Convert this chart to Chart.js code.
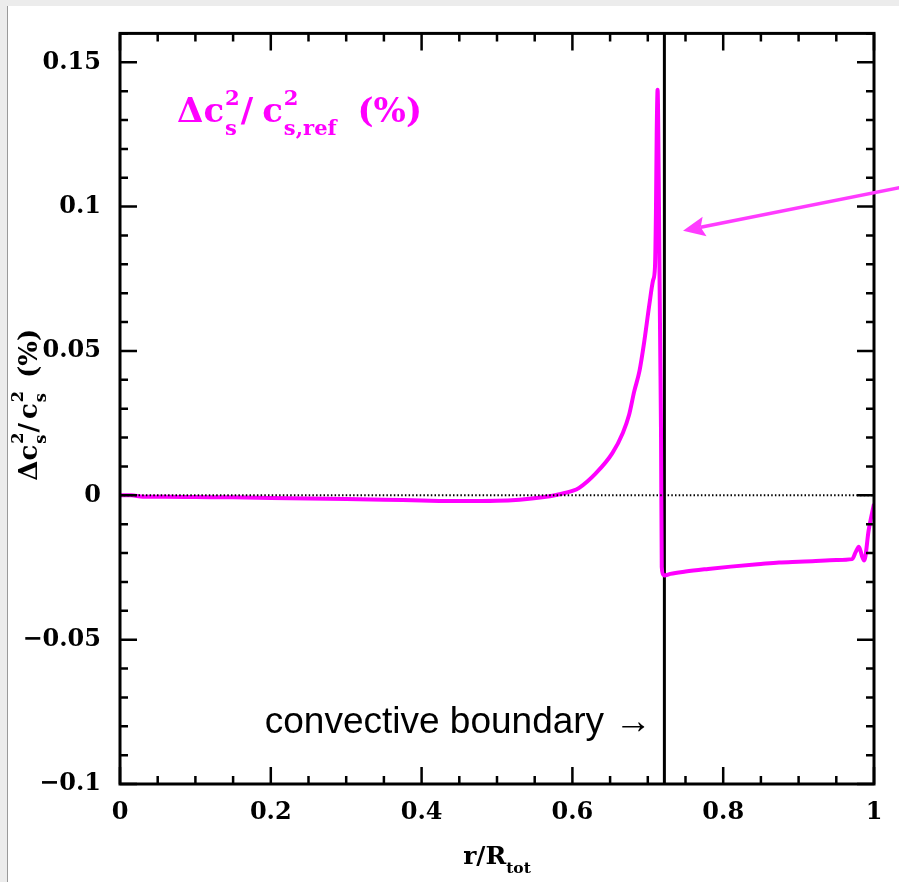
<!DOCTYPE html>
<html>
<head>
<meta charset="utf-8">
<script src="https://cdn.jsdelivr.net/npm/chart.js@4.4.1/dist/chart.umd.min.js"></script>
<style>
  html, body { margin: 0; padding: 0; background: #ececec; }
  #wrap { width: 899px; height: 882px; }
</style>
</head>
<body>
<div id="wrap"><canvas id="chart" width="899" height="882"></canvas></div>
<script>
// radius (r/Rtot) and relative sound-speed-squared difference (%)
const radius = [
  0, 0.015, 0.03, 0.06, 0.10, 0.15, 0.20, 0.25, 0.30, 0.35, 0.40, 0.45, 0.50,
  0.53, 0.56, 0.58, 0.60, 0.609, 0.631, 0.653, 0.667, 0.675, 0.682, 0.689,
  0.695, 0.702, 0.707, 0.7095, 0.7108, 0.7118, 0.713, 0.7145, 0.7155, 0.7165,
  0.7175, 0.7185, 0.7205, 0.722, 0.73, 0.75, 0.78, 0.81, 0.85, 0.874, 0.90,
  0.918, 0.95, 0.971, 0.976, 0.980, 0.984, 0.987, 0.993, 1.0
];
const deltaCs2 = [
  0, 0, -0.0005, -0.0005, -0.0006, -0.0007, -0.0009, -0.0011, -0.0013, -0.0015,
  -0.0018, -0.0020, -0.0019, -0.0015, -0.0007, 0.0002, 0.0015, 0.0026, 0.0076,
  0.0146, 0.0217, 0.0277, 0.0360, 0.0431, 0.0527, 0.0660, 0.0745, 0.0790,
  0.098, 0.125, 0.1405, 0.110, 0.078, 0.050, 0.0228, -0.0248, -0.0275, -0.0278,
  -0.0272, -0.0264, -0.0255, -0.0247, -0.0238, -0.0233, -0.0230, -0.0228,
  -0.0224, -0.0221, -0.0195, -0.0178, -0.0210, -0.0226, -0.0120, -0.0030
];

const boundaryR = 0.722;          // base of the convection zone
const xRange = [0, 1];
const yRange = [-0.1, 0.16];
const xTickValues = [0, 0.2, 0.4, 0.6, 0.8, 1];
const yTickValues = [-0.1, -0.05, 0, 0.05, 0.1, 0.15];
// arrow pointing at the spike: [r, value] of tail and tip
const arrowTail = [1.061, 0.108];
const arrowTip = [0.7467, 0.0916];

const MAGENTA = '#ff00ff';
const SERIF = '"DejaVu Serif", serif';

const curve = radius.map((r, i) => ({ x: r, y: deltaCs2[i] }));

function fmt(v) {
  if (v === 0) return '0';
  return v < 0 ? '\u2212' + String(-v) : String(v);
}

// draws text with stacked super/subscripts, returns the width used
function drawRich(ctx, x, y, items, size, draw) {
  const x0 = x;
  const small = size * 0.62;
  items.forEach(it => {
    if (it.t !== undefined) {
      ctx.font = 'bold ' + size + 'px ' + SERIF;
      if (draw) ctx.fillText(it.t, x, y);
      x += ctx.measureText(it.t).width + (it.gap || 0);
    } else {
      ctx.font = 'bold ' + small + 'px ' + SERIF;
      const ws = it.sup ? ctx.measureText(it.sup).width : 0;
      const wb = it.sub ? ctx.measureText(it.sub).width : 0;
      if (draw) {
        if (it.sup) ctx.fillText(it.sup, x, y - size * 0.52);
        if (it.sub) ctx.fillText(it.sub, x, y + size * 0.36);
      }
      x += Math.max(ws, wb) + (it.gap || 0);
    }
  });
  return x - x0;
}

const framePlugin = {
  id: 'frame',
  beforeDraw(chart) {
    const ctx = chart.ctx;
    ctx.save();
    ctx.fillStyle = '#ececec';
    ctx.fillRect(0, 0, chart.width, chart.height);
    ctx.fillStyle = '#ffffff';
    ctx.fillRect(7, 6, chart.width - 7, chart.height - 6);
    ctx.strokeStyle = '#9a9a9a';
    ctx.lineWidth = 1;
    ctx.beginPath();
    ctx.moveTo(7.5, 6);
    ctx.lineTo(7.5, chart.height);
    ctx.stroke();
    ctx.restore();
  },
  afterDatasetsDraw(chart) {
    const { ctx, chartArea: a, scales } = chart;
    const xs = scales.x, ys = scales.y;
    ctx.save();
    ctx.strokeStyle = '#000';
    ctx.lineWidth = 2.5;
    ctx.lineCap = 'butt';
    ctx.beginPath();
    for (let i = 0; i <= 20; i++) {
      const px = xs.getPixelForValue(i * 0.05);
      const len = i % 4 === 0 ? 17 : 8;
      ctx.moveTo(px, a.bottom); ctx.lineTo(px, a.bottom - len);
      ctx.moveTo(px, a.top); ctx.lineTo(px, a.top + len);
    }
    for (let j = -10; j <= 16; j++) {
      const py = ys.getPixelForValue(j * 0.01);
      const len = j % 5 === 0 ? 17 : 8;
      ctx.moveTo(a.left, py); ctx.lineTo(a.left + len, py);
      ctx.moveTo(a.right, py); ctx.lineTo(a.right - len, py);
    }
    ctx.stroke();
    ctx.lineWidth = 3;
    ctx.strokeRect(a.left, a.top, a.right - a.left, a.bottom - a.top);
    ctx.restore();
  },
  afterDraw(chart) {
    const { ctx, chartArea: a, scales } = chart;
    const xs = scales.x, ys = scales.y;
    ctx.save();
    ctx.textBaseline = 'alphabetic';
    ctx.textAlign = 'left';

    // in-plot label
    ctx.fillStyle = MAGENTA;
    drawRich(ctx, a.left + 57, a.top + 89, [
      { t: '\u0394' }, { t: 'c', gap: 1 }, { sup: '2', sub: 's', gap: 1 },
      { t: '/', gap: 9 }, { t: 'c', gap: 1 }, { sup: '2', sub: 's,ref', gap: 9 },
      { t: ' (%)' }
    ], 34, true);

    // axis titles
    ctx.fillStyle = '#000';
    const xItems = [{ t: 'r/R' }, { sub: 'tot' }];
    const wx = drawRich(ctx, 0, 0, xItems, 25, false);
    drawRich(ctx, (a.left + a.right) / 2 - wx / 2, 864, xItems, 25, true);

    const yItems = [
      { t: '\u0394' }, { t: 'c', gap: 1 }, { sup: '2', sub: 's' },
      { t: '/', gap: 4 }, { t: 'c', gap: 1 }, { sup: '2', sub: 's', gap: 4 },
      { t: ' (%)' }
    ];
    const wy = drawRich(ctx, 0, 0, yItems, 26, false);
    ctx.save();
    ctx.translate(37, (a.top + a.bottom) / 2 - 4);
    ctx.rotate(-Math.PI / 2);
    drawRich(ctx, -wy / 2, 0, yItems, 26, true);
    ctx.restore();

    // boundary annotation
    ctx.font = '37px "Liberation Sans", Arial, sans-serif';
    ctx.textAlign = 'right';
    ctx.fillText('convective boundary \u2192', xs.getPixelForValue(boundaryR) - 13,
      ys.getPixelForValue(-0.0824));

    // arrow toward the spike
    const tx = xs.getPixelForValue(arrowTip[0]), ty = ys.getPixelForValue(arrowTip[1]);
    const sx = xs.getPixelForValue(arrowTail[0]), sy = ys.getPixelForValue(arrowTail[1]);
    const ang = Math.atan2(ty - sy, tx - sx);
    const head = 22, half = 10;
    const bx = tx - head * Math.cos(ang), by = ty - head * Math.sin(ang);
    ctx.strokeStyle = '#ff3cff';
    ctx.fillStyle = '#ff3cff';
    ctx.lineWidth = 3.5;
    ctx.beginPath();
    ctx.moveTo(sx, sy);
    ctx.lineTo(bx + 4 * Math.cos(ang), by + 4 * Math.sin(ang));
    ctx.stroke();
    ctx.beginPath();
    ctx.moveTo(tx, ty);
    ctx.lineTo(bx - half * Math.sin(ang), by + half * Math.cos(ang));
    ctx.lineTo(bx + 4 * Math.cos(ang), by + 4 * Math.sin(ang));
    ctx.lineTo(bx + half * Math.sin(ang), by - half * Math.cos(ang));
    ctx.closePath();
    ctx.fill();
    ctx.restore();
  }
};

new Chart(document.getElementById('chart'), {
  type: 'scatter',
  data: {
    datasets: [
      {
        label: 'zero',
        data: xRange.map(x => ({ x: x, y: 0 })),
        showLine: true,
        borderColor: '#000',
        borderWidth: 2,
        borderDash: [1.5, 2.2],
        pointRadius: 0
      },
      {
        label: 'delta cs2',
        data: curve,
        showLine: true,
        borderColor: MAGENTA,
        borderWidth: 4,
        borderJoinStyle: 'round',
        pointRadius: 0,
        cubicInterpolationMode: 'monotone'
      },
      {
        label: 'boundary',
        data: yRange.map(y => ({ x: boundaryR, y: y })),
        showLine: true,
        borderColor: '#000',
        borderWidth: 3,
        pointRadius: 0
      }
    ]
  },
  options: {
    responsive: false,
    animation: false,
    layout: { padding: { top: 32, right: 25, left: 0, bottom: 0 } },
    plugins: { legend: { display: false }, tooltip: { enabled: false } },
    scales: {
      x: {
        type: 'linear',
        min: xRange[0],
        max: xRange[1],
        grid: { display: false, drawTicks: false },
        border: { display: false },
        afterBuildTicks: s => { s.ticks = xTickValues.map(v => ({ value: v })); },
        afterFit: s => { s.height = 98; },
        ticks: {
          padding: 14,
          color: '#000',
          maxRotation: 0,
          font: { family: SERIF, weight: 'bold', size: 24 },
          callback: v => fmt(v)
        }
      },
      y: {
        type: 'linear',
        min: yRange[0],
        max: yRange[1],
        grid: { display: false, drawTicks: false },
        border: { display: false },
        afterBuildTicks: s => { s.ticks = yTickValues.map(v => ({ value: v })); },
        afterFit: s => { s.width = 120; },
        ticks: {
          padding: 19,
          color: '#000',
          font: { family: SERIF, weight: 'bold', size: 24 },
          callback: v => fmt(v)
        }
      }
    }
  },
  plugins: [framePlugin]
});
</script>
</body>
</html>
